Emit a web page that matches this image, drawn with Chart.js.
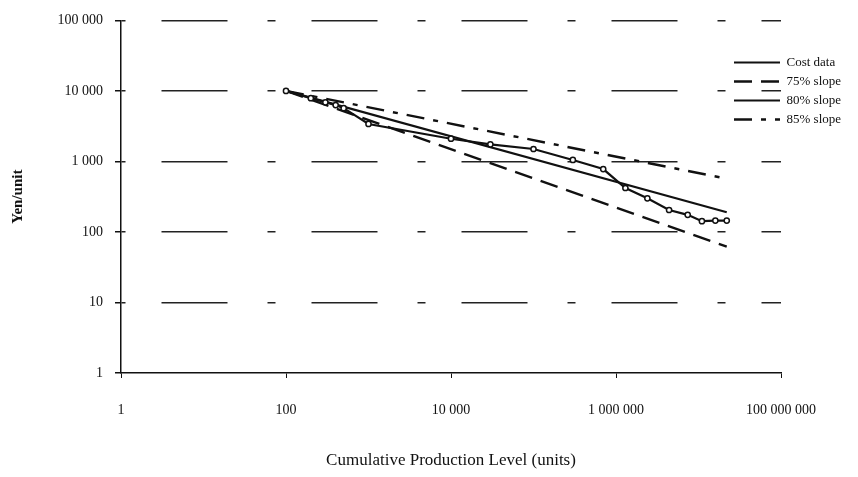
<!DOCTYPE html>
<html>
<head>
<meta charset="utf-8">
<script src="https://cdn.jsdelivr.net/npm/chart.js@4"></script>
<style>
  body { margin: 0; background: #fff; }
  #wrap { width: 858px; height: 477px; position: relative; }
</style>
</head>
<body>
<div id="wrap"><canvas id="learnChart"></canvas></div>
<script>
// cumulative production (units) and cost (yen/unit)
var costX = [100, 200, 300, 400, 500, 1000, 10000, 30000, 100000, 300000, 700000, 1300000, 2400000, 4400000, 7400000, 11000000, 16000000, 22000000];
var costY = [10000, 7900, 6900, 6300, 5700, 3400, 2100, 1750, 1500, 1050, 780, 420, 300, 205, 175, 142, 145, 145];

// reference slopes: start and end point of each line
var slopeX = [100, 22000000];
var slope75 = [10000, 62];
var slope80 = [10000, 190];
var slope85 = [10000, 570];

var xTickValues = [1, 100, 10000, 1000000, 100000000];
var xTickLabels = ["1", "100", "10 000", "1 000 000", "100 000 000"];
var yTickValues = [1, 10, 100, 1000, 10000, 100000];
var yTickLabels = ["1", "10", "100", "1 000", "10 000", "100 000"];

function toPoints(xs, ys) {
  return xs.map(function (x, i) { return { x: x, y: ys[i] }; });
}

var serif = "'Liberation Serif', 'DejaVu Serif', serif";

// legend sits over the right end of the plot, like the original
var legendSpot = {
  id: 'legendSpot',
  beforeDraw: function (chart) {
    var lg = chart.legend;
    lg.left = 728;
    lg.top = 50;
    lg.right = chart.width;
    lg.bottom = chart.height;
  }
};

var ctx = document.getElementById("learnChart");
var learnChart = new Chart(ctx, {
  type: 'scatter',
  data: {
    datasets: [
      {
        label: "Cost data",
        data: toPoints(costX, costY),
        showLine: true,
        borderColor: '#111',
        borderWidth: 2.2,
        pointRadius: 2.6,
        pointStyle: 'circle',
        pointBackgroundColor: '#fff',
        pointBorderColor: '#111',
        pointBorderWidth: 1.5
      },
      {
        label: "75% slope",
        data: toPoints(slopeX, slope75),
        showLine: true,
        borderColor: '#111',
        borderWidth: 2.4,
        borderDash: [18, 9],
        pointRadius: 0
      },
      {
        label: "80% slope",
        data: toPoints(slopeX, slope80),
        showLine: true,
        borderColor: '#111',
        borderWidth: 2.2,
        pointRadius: 0
      },
      {
        label: "85% slope",
        data: toPoints(slopeX, slope85),
        showLine: true,
        borderColor: '#111',
        borderWidth: 2.4,
        borderDash: [18, 9, 5, 9],
        pointRadius: 0
      }
    ]
  },
  options: {
    responsive: true,
    maintainAspectRatio: false,
    animation: false,
    layout: { padding: { top: 18, right: 77, left: 0, bottom: 0 } },
    plugins: {
      tooltip: { enabled: false },
      legend: {
        position: 'chartArea',
        align: 'start',
        labels: {
          usePointStyle: true,
          pointStyleWidth: 46,
          padding: 6,
          color: '#111',
          font: { family: serif, size: 13 },
          generateLabels: function (chart) {
            var items = Chart.defaults.plugins.legend.labels.generateLabels(chart);
            items.forEach(function (it, i) {
              var ds = chart.data.datasets[i];
              it.pointStyle = 'line';
              it.lineDash = ds.borderDash || [];
              it.lineWidth = ds.borderWidth;
              it.strokeStyle = ds.borderColor;
            });
            return items;
          }
        }
      }
    },
    scales: {
      x: {
        type: 'logarithmic',
        min: 1,
        max: 100000000,
        afterBuildTicks: function (scale) {
          scale.ticks = xTickValues.map(function (v) { return { value: v }; });
        },
        afterFit: function (scale) { scale.height = 104; },
        ticks: {
          autoSkip: false,
          maxRotation: 0,
          padding: 24,
          color: '#111',
          font: { family: serif, size: 14 },
          callback: function (value, index) { return xTickLabels[index]; }
        },
        grid: {
          drawOnChartArea: false,
          drawTicks: true,
          tickLength: 5,
          tickColor: '#111'
        },
        border: { display: true, color: '#111', width: 1.5 },
        title: {
          display: true,
          text: "Cumulative Production Level (units)",
          color: '#111',
          font: { family: serif, size: 17 },
          padding: { top: 0, bottom: 6 }
        }
      },
      y: {
        type: 'logarithmic',
        min: 1,
        max: 100000,
        afterBuildTicks: function (scale) {
          scale.ticks = yTickValues.map(function (v) { return { value: v }; });
        },
        afterFit: function (scale) { scale.width = 121; },
        ticks: {
          autoSkip: false,
          padding: 12,
          color: '#111',
          font: { family: serif, size: 14 },
          callback: function (value, index) { return yTickLabels[index]; }
        },
        grid: {
          color: function (c) {
            return c.tick && c.tick.value === 1 ? 'rgba(0,0,0,0)' : '#222';
          },
          lineWidth: 1.5,
          tickLength: 6,
          tickColor: '#111',
          tickBorderDash: []
        },
        border: { display: true, color: '#111', width: 1.5, dash: [66, 40, 8, 36], dashOffset: -40 },
        title: {
          display: true,
          text: "Yen/unit",
          color: '#111',
          font: { family: serif, size: 15, weight: 'bold' },
          padding: { top: 9, bottom: 0 }
        }
      }
    }
  },
  plugins: [legendSpot]
});
</script>
</body>
</html>
